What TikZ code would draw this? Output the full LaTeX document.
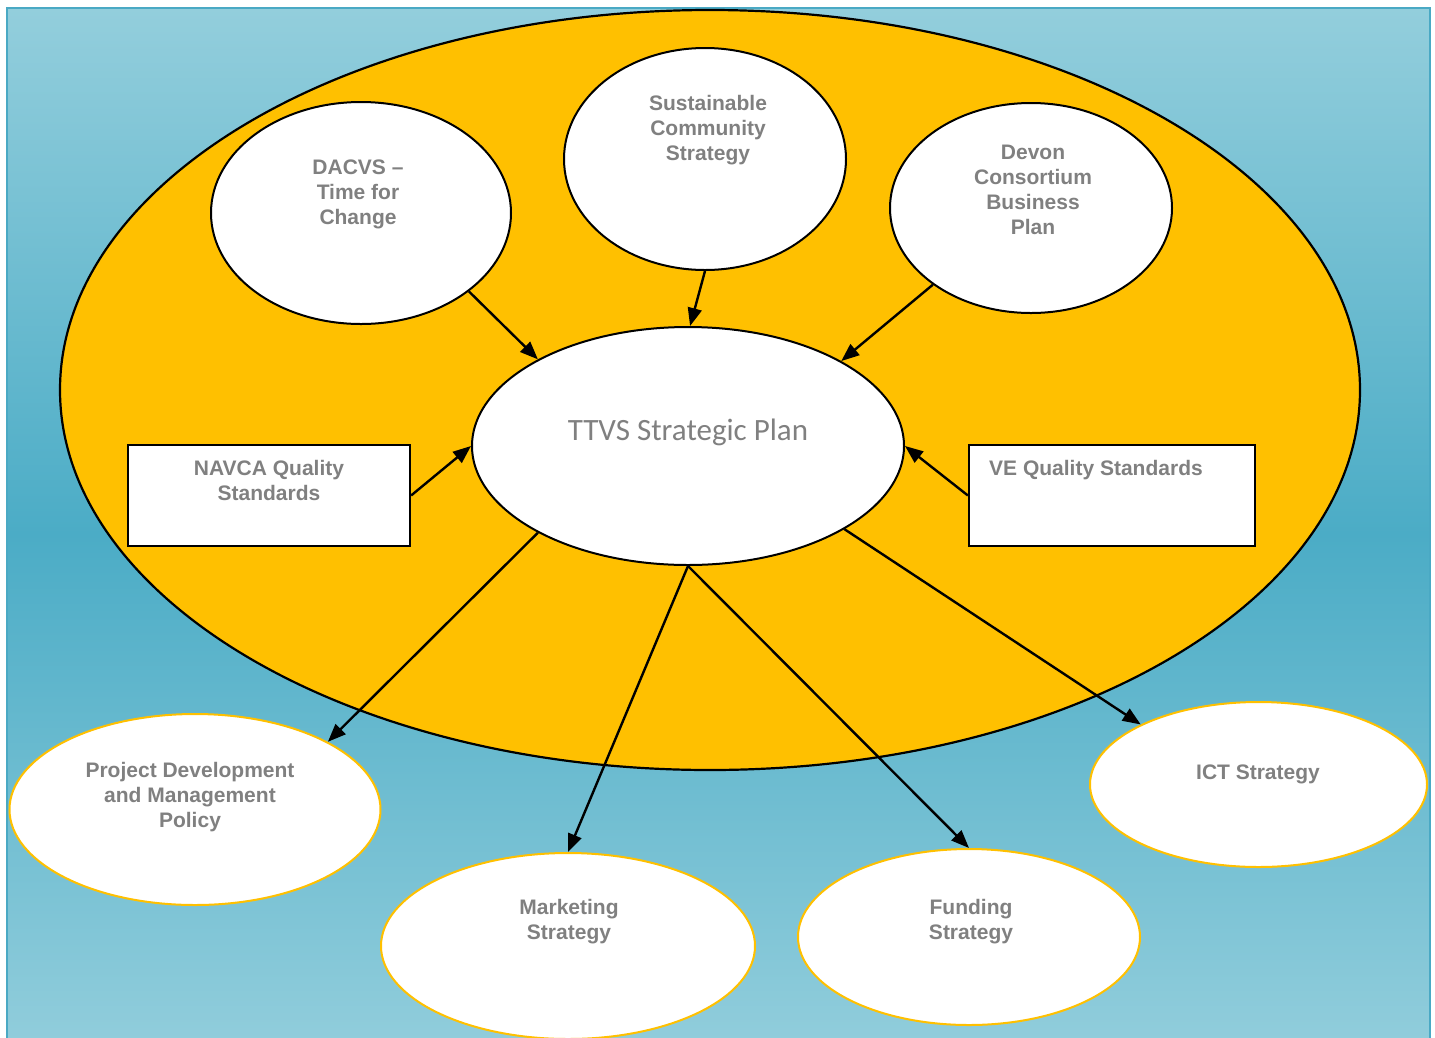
\documentclass[tikz,border=0pt]{standalone}
\usepackage{fontspec}
\setmainfont{Liberation Sans}
\newfontfamily\planfont{Carlito}
\usetikzlibrary{shapes.geometric,arrows.meta}
\definecolor{skytop}{HTML}{93CEDC}
\definecolor{skymid}{HTML}{4BACC6}
\definecolor{skyedge}{HTML}{4AA9C4}
\definecolor{amber}{HTML}{FFC000}
\definecolor{labelgray}{HTML}{808080}

\begin{document}
\begin{tikzpicture}[x=1pt,y=-1pt,
  blob/.style={ellipse, draw=black, line width=2pt, fill=white, inner sep=0pt},
  outblob/.style={ellipse, draw=amber, line width=2pt, fill=white, inner sep=0pt},
  stdbox/.style={rectangle, draw=black, line width=2.2pt, fill=white, inner sep=0pt},
  lbl/.style={text=labelgray, font=\fontsize{21}{25}\selectfont\bfseries, align=center, inner sep=0pt},
  feed/.style={line width=2.4pt, -{Triangle[length=18pt,width=14pt]}}
]
\useasboundingbox (0,0) rectangle (1435,1037);

% sky-blue backdrop with its frame
\shade[top color=skytop, bottom color=skytop, middle color=skymid] (7,8) rectangle (1430,1060);
\draw[skyedge, line width=2.5pt] (7,1060) -- (7,8) -- (1430,8) -- (1430,1060);

% amber field holding the planning documents
\node[ellipse, draw=black, line width=2.2pt, fill=amber, inner sep=0pt,
      minimum width=1300pt, minimum height=760pt] (field) at (710,390) {};

% input documents
\node[blob, minimum width=300pt, minimum height=222pt] (dacvs) at (361,213) {};
\node[blob, minimum width=282pt, minimum height=222pt] (scs) at (705,159) {};
\node[blob, minimum width=282pt, minimum height=210pt] (devon) at (1031,208) {};
\node[blob, minimum width=432pt, minimum height=238pt] (plan) at (688,446) {};
\node[stdbox, minimum width=282pt, minimum height=101pt] (navca) at (269,495.5) {};
\node[stdbox, minimum width=286pt, minimum height=101pt] (ve) at (1112,495.5) {};

% resulting strategies
\node[outblob, minimum width=371pt, minimum height=191pt] (pdmp) at (195,809.5) {};
\node[outblob, minimum width=374pt, minimum height=186pt] (mkt) at (568,946) {};
\node[outblob, minimum width=342pt, minimum height=176pt] (fund) at (969,937) {};
\node[outblob, minimum width=337pt, minimum height=165pt] (ict) at (1258.5,784.5) {};

% labels
\node[lbl] (tdacvs) at (358,194) {DACVS \textendash\\Time for\\Change};
\node[lbl] (tscs) at (708,130) {Sustainable\\Community\\Strategy};
\node[lbl] (tdevon) at (1033,189.5) {Devon\\Consortium\\Business\\Plan};
\node[text=labelgray, inner sep=0pt, font=\planfont\fontsize{31}{36}\selectfont] (tplan) at (688,432) {TTVS Strategic Plan};
\node[lbl] (tnavca) at (269,480) {NAVCA Quality\\Standards};
\node[lbl, anchor=west] (tve) at (989,470) {VE Quality Standards};
\node[lbl] (tpdmp) at (190,797) {Project Development\\and Management\\Policy};
\node[lbl] (tmkt) at (569,922) {Marketing\\Strategy};
\node[lbl] (tfund) at (971,922) {Funding\\Strategy};
\node[lbl] (tict) at (1258,774) {ICT Strategy};

% flows into the plan
\draw[feed] (dacvs.-36.7) -- (plan.150.7);
\draw[feed] (scs.-90) -- (plan.89);
\draw[feed] (devon.-142.9) -- (plan.29);
\draw[feed] (navca.east) -- (plan.west);
\draw[feed] (ve.west) -- (plan.east);

% flows out of the plan
\draw[feed] (plan.-150.9) -- (pdmp.27);
\draw[feed] (plan.south) -- (mkt.north);
\draw[feed] (plan.south) -- (fund.north);
\draw[feed] (plan.-28.8) -- (ict.153.4);
\end{tikzpicture}
\end{document}
